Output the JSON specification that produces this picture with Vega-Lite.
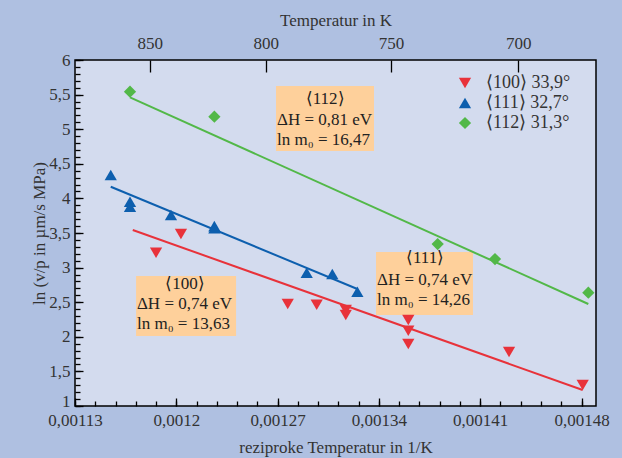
{
  "$schema": "https://vega.github.io/schema/vega-lite/v6.json",
  "width": 521,
  "height": 346,
  "autosize": "none",
  "padding": {"left": 75, "top": 60, "right": 26, "bottom": 52},
  "datasets": {
    "points": [
      {"series": "⟨100⟩ 33,9°", "x": 0.0011860, "y": 3.215},
      {"series": "⟨100⟩ 33,9°", "x": 0.0012032, "y": 3.486},
      {"series": "⟨100⟩ 33,9°", "x": 0.0012770, "y": 2.474},
      {"series": "⟨100⟩ 33,9°", "x": 0.0012970, "y": 2.464},
      {"series": "⟨100⟩ 33,9°", "x": 0.0013171, "y": 2.387},
      {"series": "⟨100⟩ 33,9°", "x": 0.0013171, "y": 2.315},
      {"series": "⟨100⟩ 33,9°", "x": 0.0013603, "y": 2.243},
      {"series": "⟨100⟩ 33,9°", "x": 0.0013603, "y": 2.088},
      {"series": "⟨100⟩ 33,9°", "x": 0.0013603, "y": 1.896},
      {"series": "⟨100⟩ 33,9°", "x": 0.0014299, "y": 1.780},
      {"series": "⟨100⟩ 33,9°", "x": 0.0014808, "y": 1.303},
      {"series": "⟨111⟩ 32,7°", "x": 0.0011547, "y": 4.338},
      {"series": "⟨111⟩ 32,7°", "x": 0.0011680, "y": 3.952},
      {"series": "⟨111⟩ 32,7°", "x": 0.0011680, "y": 3.880},
      {"series": "⟨111⟩ 32,7°", "x": 0.0011963, "y": 3.760},
      {"series": "⟨111⟩ 32,7°", "x": 0.0012263, "y": 3.600},
      {"series": "⟨111⟩ 32,7°", "x": 0.0012263, "y": 3.570},
      {"series": "⟨111⟩ 32,7°", "x": 0.0012901, "y": 2.926},
      {"series": "⟨111⟩ 32,7°", "x": 0.0013078, "y": 2.908},
      {"series": "⟨111⟩ 32,7°", "x": 0.0013251, "y": 2.652},
      {"series": "⟨112⟩ 31,3°", "x": 0.0011680, "y": 5.542},
      {"series": "⟨112⟩ 31,3°", "x": 0.0012263, "y": 5.181},
      {"series": "⟨112⟩ 31,3°", "x": 0.0013806, "y": 3.341},
      {"series": "⟨112⟩ 31,3°", "x": 0.0014202, "y": 3.124},
      {"series": "⟨112⟩ 31,3°", "x": 0.0014847, "y": 2.637}
    ],
    "fits": [
      {"series": "⟨100⟩ 33,9°", "x": 0.0011699, "y": 3.543},
      {"series": "⟨100⟩ 33,9°", "x": 0.0014808, "y": 1.231},
      {"series": "⟨111⟩ 32,7°", "x": 0.0011547, "y": 4.169},
      {"series": "⟨111⟩ 32,7°", "x": 0.0013251, "y": 2.691},
      {"series": "⟨112⟩ 31,3°", "x": 0.0011680, "y": 5.461},
      {"series": "⟨112⟩ 31,3°", "x": 0.0014847, "y": 2.474}
    ],
    "boxes": [
      {"x": 0.0012689, "x2": 0.0013366, "y": 4.685, "y2": 5.624},
      {"x": 0.0011722, "x2": 0.0012413, "y": 2.012, "y2": 2.879},
      {"x": 0.0013380, "x2": 0.0014050, "y": 2.315, "y2": 3.225}
    ],
    "heads": [
      {"x": 0.0013028, "y": 5.44, "t": "⟨112⟩"},
      {"x": 0.0012060, "y": 2.77, "t": "⟨100⟩"},
      {"x": 0.0013719, "y": 3.14, "t": "⟨111⟩"}
    ],
    "lines": [
      {"x": 0.0012696, "y": 5.133, "t": "ΔH = 0,81 eV"},
      {"x": 0.0012696, "y": 4.844, "t": "ln m₀ = 16,47"},
      {"x": 0.0011728, "y": 2.474, "t": "ΔH = 0,74 eV"},
      {"x": 0.0011728, "y": 2.185, "t": "ln m₀ = 13,63"},
      {"x": 0.0013387, "y": 2.821, "t": "ΔH = 0,74 eV"},
      {"x": 0.0013387, "y": 2.532, "t": "ln m₀ = 14,26"}
    ]
  },
  "resolve": {"axis": {"x": "independent", "y": "independent"}},
  "layer": [
    {
      "data": {"name": "boxes"},
      "mark": {"type": "rect", "fill": "#fed09b", "stroke": null},
      "encoding": {
        "x": {"field": "x", "type": "quantitative", "scale": {"domain": [0.00113, 0.00149], "nice": false, "zero": false},
          "axis": {"orient": "bottom", "values": [0.00113, 0.0012, 0.00127, 0.00134, 0.00141, 0.00148], "format": "~g", "tickSize": -8, "labelPadding": 14, "labelFont": "Liberation Serif", "labelFontSize": 17, "title": "reziproke Temperatur in 1/K", "titlePadding": 11}},
        "x2": {"field": "x2"},
        "y": {"field": "y", "type": "quantitative", "scale": {"domain": [1, 6], "nice": false, "zero": false},
          "axis": {"orient": "left", "values": [1, 1.5, 2, 2.5, 3, 3.5, 4, 4.5, 5, 5.5, 6], "format": "~g", "tickSize": -8, "labelPadding": 13, "labelFont": "Liberation Serif", "labelFontSize": 17, "title": "ln (v/p in µm/s MPa)", "titlePadding": 0,
            "labelBaseline": {"condition": {"test": "datum.value == 1", "value": "alphabetic"}, "value": "middle"}}},
        "y2": {"field": "y2"}
      }
    },
    {
      "data": {"name": "heads"},
      "mark": {"type": "text", "align": "center", "baseline": "middle", "font": "Liberation Serif", "fontSize": 17, "color": "#222222"},
      "encoding": {
        "x": {"field": "x", "type": "quantitative", "scale": {"domain": [0.00113, 0.00149], "nice": false, "zero": false},
          "axis": {"orient": "bottom", "values": [0.00113, 0.001144, 0.001158, 0.001172, 0.001186, 0.0012, 0.001214, 0.001228, 0.001242, 0.001256, 0.00127, 0.001284, 0.001298, 0.001312, 0.001326, 0.00134, 0.001354, 0.001368, 0.001382, 0.001396, 0.00141, 0.001424, 0.001438, 0.001452, 0.001466, 0.00148], "labels": false, "tickSize": -5, "title": null}},
        "y": {"field": "y", "type": "quantitative", "scale": {"domain": [1, 6], "nice": false, "zero": false},
          "axis": {"orient": "left", "values": [1, 1.1, 1.2, 1.3, 1.4, 1.5, 1.6, 1.7, 1.8, 1.9, 2, 2.1, 2.2, 2.3, 2.4, 2.5, 2.6, 2.7, 2.8, 2.9, 3, 3.1, 3.2, 3.3, 3.4, 3.5, 3.6, 3.7, 3.8, 3.9, 4, 4.1, 4.2, 4.3, 4.4, 4.5, 4.6, 4.7, 4.8, 4.9, 5, 5.1, 5.2, 5.3, 5.4, 5.5, 5.6, 5.7, 5.8, 5.9, 6], "labels": false, "tickSize": -5, "title": null}},
        "text": {"field": "t"}
      }
    },
    {
      "data": {"name": "lines"},
      "mark": {"type": "text", "align": "left", "baseline": "middle", "font": "Liberation Serif", "fontSize": 17, "color": "#222222"},
      "encoding": {
        "x": {"field": "x", "type": "quantitative", "scale": {"domain": [0.00113, 0.00149], "nice": false, "zero": false}, "axis": null},
        "y": {"field": "y", "type": "quantitative", "scale": {"domain": [1, 6], "nice": false, "zero": false}, "axis": null},
        "text": {"field": "t"}
      }
    },
    {
      "data": {"name": "fits"},
      "mark": {"type": "line", "strokeWidth": 2},
      "encoding": {
        "x": {"field": "x", "type": "quantitative", "scale": {"domain": [0.00113, 0.00149], "nice": false, "zero": false},
          "axis": {"orient": "top", "values": [0.0011816, 0.0012618, 0.0013484, 0.0014363], "labelExpr": "format(round(1 / datum.value / 50) * 50, 'd')", "tickSize": -12, "labelPadding": 20, "labelFont": "Liberation Serif", "labelFontSize": 17, "title": "Temperatur in K", "titlePadding": 5}},
        "y": {"field": "y", "type": "quantitative", "scale": {"domain": [1, 6], "nice": false, "zero": false}, "axis": null},
        "color": {"field": "series", "type": "nominal", "scale": {"domain": ["⟨100⟩ 33,9°", "⟨111⟩ 32,7°", "⟨112⟩ 31,3°"], "range": ["#e8323a", "#0d5fae", "#52b848"]}},
        "detail": {"field": "series"}
      }
    },
    {
      "data": {"name": "points"},
      "mark": {"type": "point", "filled": true, "opacity": 1, "size": 150},
      "encoding": {
        "x": {"field": "x", "type": "quantitative", "scale": {"domain": [0.00113, 0.00149], "nice": false, "zero": false}, "axis": null},
        "y": {"field": "y", "type": "quantitative", "scale": {"domain": [1, 6], "nice": false, "zero": false}, "axis": null},
        "color": {"field": "series", "type": "nominal", "scale": {"domain": ["⟨100⟩ 33,9°", "⟨111⟩ 32,7°", "⟨112⟩ 31,3°"], "range": ["#e8323a", "#0d5fae", "#52b848"]}},
        "shape": {"field": "series", "type": "nominal", "scale": {"domain": ["⟨100⟩ 33,9°", "⟨111⟩ 32,7°", "⟨112⟩ 31,3°"], "range": ["triangle-down", "triangle-up", "diamond"]}}
      }
    }
  ],
  "config": {
    "background": "#afc0e1",
    "view": {"fill": "#d3dbee", "stroke": "#000000", "strokeWidth": 1.5},
    "locale": {"number": {"decimal": ",", "thousands": ".", "grouping": [3], "currency": ["", " €"]}},
    "axis": {
      "labelFont": "Liberation Serif", "labelFontSize": 17, "labelColor": "#333333",
      "titleFont": "Liberation Serif", "titleFontSize": 17, "titleFontWeight": "normal", "titleColor": "#333333",
      "domain": false, "grid": false, "tickColor": "#000000", "tickWidth": 1.3,
      "labelOverlap": false, "labelFlush": false
    },
    "legend": {
      "orient": "none", "legendX": 381, "legendY": 14, "title": null,
      "labelFont": "Liberation Serif", "labelFontSize": 18, "labelColor": "#333333",
      "symbolSize": 150, "symbolStrokeWidth": 0, "symbolType": "circle", "rowPadding": 2, "labelOffset": 12, "padding": 0
    }
  }
}
